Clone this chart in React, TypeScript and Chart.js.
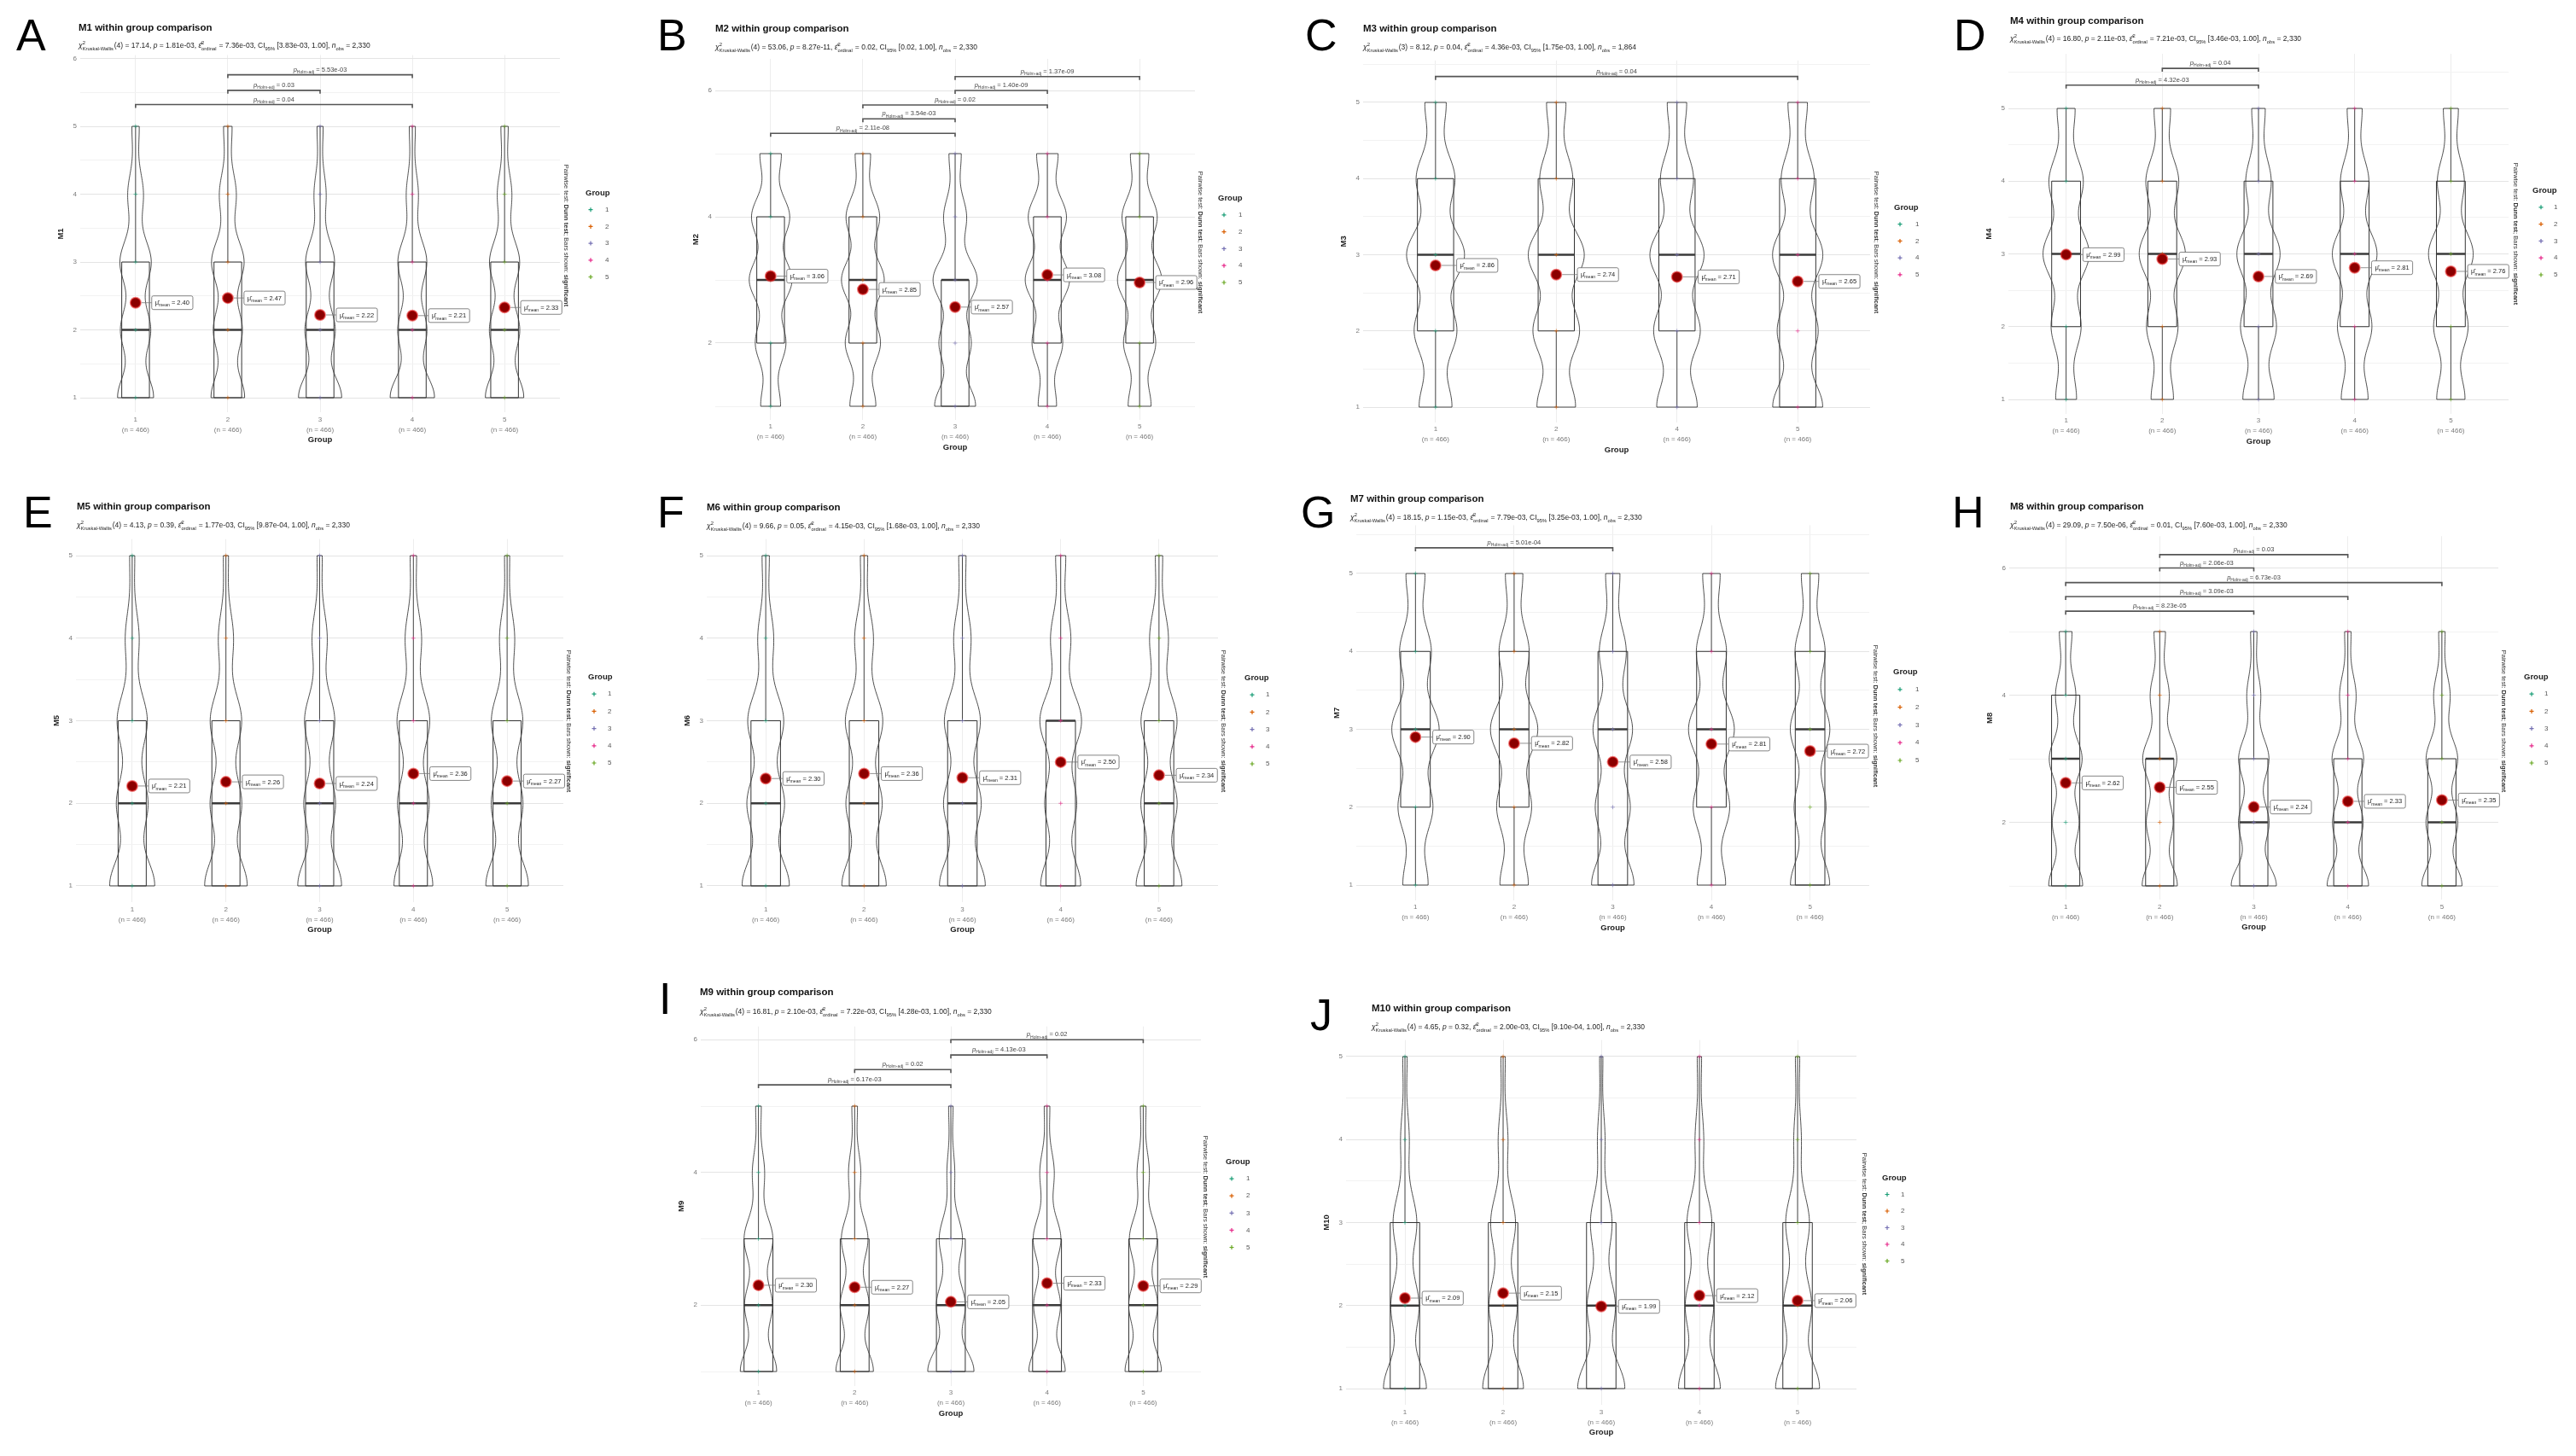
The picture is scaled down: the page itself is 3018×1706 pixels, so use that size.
import React, { useEffect, useRef } from "react";
import { Chart, registerables } from "chart.js";
Chart.register(...registerables);

const FONT = '"Liberation Sans", Arial, Helvetica, sans-serif';
const LETTER_FONT = '"Liberation Sans", Arial, sans-serif';

// ---------- shared categories ----------
const groupLabels = ["1", "2", "3", "4", "5"];
const groupLabelsM3 = ["1", "2", "4", "5"];
const perGroupN = 466;
const likertLevels = [1, 2, 3, 4, 5];
const groupColors = ["#1B9E77", "#D95F02", "#7570B3", "#E7298A", "#66A61E"];

const panelLetters = ["A", "B", "C", "D", "E", "F", "G", "H", "I", "J"];
const measureNames = ["M1", "M2", "M3", "M4", "M5", "M6", "M7", "M8", "M9", "M10"];

// ---------- Kruskal-Wallis subtitles ----------
const kwDf = [4, 4, 3, 4, 4, 4, 4, 4, 4, 4];
const kwChi = ["17.14", "53.06", "8.12", "16.80", "4.13", "9.66", "18.15", "29.09", "16.81", "4.65"];
const kwP = ["1.81e-03", "8.27e-11", "0.04", "2.11e-03", "0.39", "0.05", "1.15e-03", "7.50e-06", "2.10e-03", "0.32"];
const epsSq = ["7.36e-03", "0.02", "4.36e-03", "7.21e-03", "1.77e-03", "4.15e-03", "7.79e-03", "0.01", "7.22e-03", "2.00e-03"];
const ciLow = ["3.83e-03", "0.02", "1.75e-03", "3.46e-03", "9.87e-04", "1.68e-03", "3.25e-03", "7.60e-03", "4.28e-03", "9.10e-04"];
const ciHigh = ["1.00", "1.00", "1.00", "1.00", "1.00", "1.00", "1.00", "1.00", "1.00", "1.00"];
const nObs = ["2,330", "2,330", "1,864", "2,330", "2,330", "2,330", "2,330", "2,330", "2,330", "2,330"];

// ---------- M1 ----------
const M1_q1 = [1, 1, 1, 1, 1];
const M1_median = [2, 2, 2, 2, 2];
const M1_q3 = [3, 3, 3, 3, 3];
const M1_mean = [2.40, 2.47, 2.22, 2.21, 2.33];
const M1_share = [[0.30, 0.25, 0.26, 0.13, 0.06], [0.28, 0.24, 0.27, 0.14, 0.07], [0.36, 0.25, 0.24, 0.10, 0.05], [0.37, 0.24, 0.24, 0.10, 0.05], [0.32, 0.25, 0.25, 0.12, 0.06]];
const M1_pairs = [[2, 4], [2, 3], [1, 4]];
const M1_pHolm = ["5.53e-03", "0.03", "0.04"];
const M1_pairY = [5.76, 5.53, 5.32];
// ---------- M2 ----------
const M2_q1 = [2, 2, 1, 2, 2];
const M2_median = [3, 3, 3, 3, 3];
const M2_q3 = [4, 4, 3, 4, 4];
const M2_mean = [3.06, 2.85, 2.57, 3.08, 2.96];
const M2_share = [[0.13, 0.20, 0.28, 0.25, 0.14], [0.17, 0.23, 0.28, 0.22, 0.10], [0.27, 0.21, 0.29, 0.15, 0.08], [0.12, 0.20, 0.29, 0.25, 0.14], [0.15, 0.21, 0.29, 0.23, 0.12]];
const M2_pairs = [[3, 5], [3, 4], [2, 4], [2, 3], [1, 3]];
const M2_pHolm = ["1.37e-09", "1.40e-09", "0.02", "3.54e-03", "2.11e-08"];
const M2_pairY = [6.22, 6.0, 5.77, 5.55, 5.32];
// ---------- M3 ----------
const M3_q1 = [2, 2, 2, 1];
const M3_median = [3, 3, 3, 3];
const M3_q3 = [4, 4, 4, 4];
const M3_mean = [2.86, 2.74, 2.71, 2.65];
const M3_share = [[0.17, 0.22, 0.30, 0.20, 0.11], [0.20, 0.24, 0.29, 0.17, 0.10], [0.21, 0.24, 0.28, 0.17, 0.10], [0.26, 0.21, 0.26, 0.17, 0.10]];
const M3_pairs = [[1, 4]];
const M3_pHolm = ["0.04"];
const M3_pairY = [5.34];
// ---------- M4 ----------
const M4_q1 = [2, 2, 2, 2, 2];
const M4_median = [3, 3, 3, 3, 3];
const M4_q3 = [4, 4, 4, 4, 4];
const M4_mean = [2.99, 2.93, 2.69, 2.81, 2.76];
const M4_share = [[0.14, 0.20, 0.31, 0.23, 0.12], [0.15, 0.21, 0.31, 0.22, 0.11], [0.21, 0.24, 0.29, 0.17, 0.09], [0.18, 0.23, 0.30, 0.19, 0.10], [0.19, 0.23, 0.30, 0.18, 0.10]];
const M4_pairs = [[2, 3], [1, 3]];
const M4_pHolm = ["0.04", "4.32e-03"];
const M4_pairY = [5.55, 5.32];
// ---------- M5 ----------
const M5_q1 = [1, 1, 1, 1, 1];
const M5_median = [2, 2, 2, 2, 2];
const M5_q3 = [3, 3, 3, 3, 3];
const M5_mean = [2.21, 2.26, 2.24, 2.36, 2.27];
const M5_share = [[0.36, 0.25, 0.24, 0.11, 0.04], [0.34, 0.25, 0.25, 0.12, 0.04], [0.35, 0.25, 0.24, 0.12, 0.04], [0.31, 0.25, 0.26, 0.13, 0.05], [0.34, 0.25, 0.25, 0.12, 0.04]];
const M5_pairs: number[][] = [];
const M5_pHolm: string[] = [];
const M5_pairY: number[] = [];
// ---------- M6 ----------
const M6_q1 = [1, 1, 1, 1, 1];
const M6_median = [2, 2, 2, 3, 2];
const M6_q3 = [3, 3, 3, 3, 3];
const M6_mean = [2.30, 2.36, 2.31, 2.50, 2.34];
const M6_share = [[0.33, 0.26, 0.25, 0.11, 0.05], [0.31, 0.25, 0.26, 0.13, 0.05], [0.32, 0.26, 0.25, 0.12, 0.05], [0.28, 0.22, 0.29, 0.14, 0.07], [0.32, 0.25, 0.25, 0.13, 0.05]];
const M6_pairs: number[][] = [];
const M6_pHolm: string[] = [];
const M6_pairY: number[] = [];
// ---------- M7 ----------
const M7_q1 = [2, 2, 1, 2, 1];
const M7_median = [3, 3, 3, 3, 3];
const M7_q3 = [4, 4, 4, 4, 4];
const M7_mean = [2.90, 2.82, 2.58, 2.81, 2.72];
const M7_share = [[0.16, 0.22, 0.30, 0.20, 0.12], [0.18, 0.22, 0.30, 0.19, 0.11], [0.27, 0.22, 0.25, 0.17, 0.09], [0.18, 0.23, 0.29, 0.19, 0.11], [0.25, 0.20, 0.25, 0.19, 0.11]];
const M7_pairs = [[1, 3]];
const M7_pHolm = ["5.01e-04"];
const M7_pairY = [5.33];
// ---------- M8 ----------
const M8_q1 = [1, 1, 1, 1, 1];
const M8_median = [3, 3, 2, 2, 2];
const M8_q3 = [4, 3, 3, 3, 3];
const M8_mean = [2.62, 2.55, 2.24, 2.33, 2.35];
const M8_share = [[0.27, 0.21, 0.26, 0.16, 0.10], [0.28, 0.21, 0.27, 0.15, 0.09], [0.36, 0.24, 0.24, 0.11, 0.05], [0.33, 0.24, 0.25, 0.13, 0.05], [0.32, 0.25, 0.25, 0.13, 0.05]];
const M8_pairs = [[2, 4], [2, 3], [1, 5], [1, 4], [1, 3]];
const M8_pHolm = ["0.03", "2.06e-03", "6.73e-03", "3.09e-03", "8.23e-05"];
const M8_pairY = [6.21, 6.0, 5.77, 5.55, 5.32];
// ---------- M9 ----------
const M9_q1 = [1, 1, 1, 1, 1];
const M9_median = [2, 2, 2, 2, 2];
const M9_q3 = [3, 3, 3, 3, 3];
const M9_mean = [2.30, 2.27, 2.05, 2.33, 2.29];
const M9_share = [[0.33, 0.25, 0.26, 0.11, 0.05], [0.34, 0.26, 0.24, 0.11, 0.05], [0.42, 0.26, 0.21, 0.07, 0.04], [0.33, 0.24, 0.25, 0.13, 0.05], [0.33, 0.26, 0.25, 0.11, 0.05]];
const M9_pairs = [[3, 5], [3, 4], [2, 3], [1, 3]];
const M9_pHolm = ["0.02", "4.13e-03", "0.02", "6.17e-03"];
const M9_pairY = [6.0, 5.77, 5.55, 5.32];
// ---------- M10 ----------
const M10_q1 = [1, 1, 1, 1, 1];
const M10_median = [2, 2, 2, 2, 2];
const M10_q3 = [3, 3, 3, 3, 3];
const M10_mean = [2.09, 2.15, 1.99, 2.12, 2.06];
const M10_share = [[0.40, 0.26, 0.22, 0.08, 0.04], [0.38, 0.26, 0.23, 0.09, 0.04], [0.44, 0.26, 0.20, 0.07, 0.03], [0.39, 0.26, 0.23, 0.08, 0.04], [0.41, 0.26, 0.22, 0.07, 0.04]];
const M10_pairs: number[][] = [];
const M10_pHolm: string[] = [];
const M10_pairY: number[] = [];

const measures = [
  { groups: groupLabels, q1: M1_q1, median: M1_median, q3: M1_q3, mean: M1_mean, share: M1_share, pairs: M1_pairs, pHolm: M1_pHolm, pairY: M1_pairY },
  { groups: groupLabels, q1: M2_q1, median: M2_median, q3: M2_q3, mean: M2_mean, share: M2_share, pairs: M2_pairs, pHolm: M2_pHolm, pairY: M2_pairY },
  { groups: groupLabelsM3, q1: M3_q1, median: M3_median, q3: M3_q3, mean: M3_mean, share: M3_share, pairs: M3_pairs, pHolm: M3_pHolm, pairY: M3_pairY },
  { groups: groupLabels, q1: M4_q1, median: M4_median, q3: M4_q3, mean: M4_mean, share: M4_share, pairs: M4_pairs, pHolm: M4_pHolm, pairY: M4_pairY },
  { groups: groupLabels, q1: M5_q1, median: M5_median, q3: M5_q3, mean: M5_mean, share: M5_share, pairs: M5_pairs, pHolm: M5_pHolm, pairY: M5_pairY },
  { groups: groupLabels, q1: M6_q1, median: M6_median, q3: M6_q3, mean: M6_mean, share: M6_share, pairs: M6_pairs, pHolm: M6_pHolm, pairY: M6_pairY },
  { groups: groupLabels, q1: M7_q1, median: M7_median, q3: M7_q3, mean: M7_mean, share: M7_share, pairs: M7_pairs, pHolm: M7_pHolm, pairY: M7_pairY },
  { groups: groupLabels, q1: M8_q1, median: M8_median, q3: M8_q3, mean: M8_mean, share: M8_share, pairs: M8_pairs, pHolm: M8_pHolm, pairY: M8_pairY },
  { groups: groupLabels, q1: M9_q1, median: M9_median, q3: M9_q3, mean: M9_mean, share: M9_share, pairs: M9_pairs, pHolm: M9_pHolm, pairY: M9_pairY },
  { groups: groupLabels, q1: M10_q1, median: M10_median, q3: M10_q3, mean: M10_mean, share: M10_share, pairs: M10_pairs, pHolm: M10_pHolm, pairY: M10_pairY },
];

// ---------- layout (page pixels) ----------
const LAYOUT = [
  { cell: [0, 0, 760, 555], plotL: 94, plotR: 656, p1: 466, unit: 79.5, yMin: 0.78, yMax: 6.05, step: 1, letter: [19, 59], title: [92, 32], sub: [92, 53], leg: { x: 686, y: 226, sx: 692, lx: 709, dy: 19.7 }, cap: [664, 276] },
  { cell: [760, 0, 740, 555], plotL: 838, plotR: 1400, p1: 476, unit: 74, yMin: 0.78, yMax: 6.5, step: 2, letter: [770, 59], title: [838, 33], sub: [838, 55], leg: { x: 1427, y: 232, sx: 1434, lx: 1451, dy: 19.8 }, cap: [1407, 284] },
  { cell: [1500, 0, 760, 555], plotL: 1597, plotR: 2191, p1: 477, unit: 89.25, yMin: 0.8, yMax: 5.55, step: 1, letter: [1529, 59], title: [1597, 33], sub: [1597, 55], leg: { x: 2219, y: 243, sx: 2226, lx: 2244, dy: 19.7 }, cap: [2199, 284] },
  { cell: [2260, 0, 758, 555], plotL: 2353, plotR: 2939, p1: 468, unit: 85.25, yMin: 0.8, yMax: 5.75, step: 1, letter: [2289, 59], title: [2355, 24], sub: [2355, 45], leg: { x: 2967, y: 223, sx: 2977, lx: 2992, dy: 19.8 }, cap: [2948, 274] },
  { cell: [0, 555, 760, 560], plotL: 89, plotR: 660, p1: 1038, unit: 96.75, yMin: 0.8, yMax: 5.2, step: 1, letter: [27, 618], title: [90, 593], sub: [90, 615], leg: { x: 689, y: 793, sx: 696, lx: 712, dy: 20.2 }, cap: [667, 845] },
  { cell: [760, 555, 740, 560], plotL: 828, plotR: 1427, p1: 1038, unit: 96.75, yMin: 0.8, yMax: 5.2, step: 1, letter: [770, 618], title: [828, 594], sub: [828, 616], leg: { x: 1458, y: 794, sx: 1467, lx: 1483, dy: 20.2 }, cap: [1434, 845] },
  { cell: [1500, 555, 760, 560], plotL: 1589, plotR: 2190, p1: 1037, unit: 91.25, yMin: 0.8, yMax: 5.62, step: 1, letter: [1524, 618], title: [1582, 584], sub: [1582, 606], leg: { x: 2218, y: 787, sx: 2226, lx: 2244, dy: 20.8 }, cap: [2198, 839] },
  { cell: [2260, 555, 758, 560], plotL: 2354, plotR: 2927, p1: 1038, unit: 74.5, yMin: 0.78, yMax: 6.5, step: 2, letter: [2287, 618], title: [2355, 593], sub: [2355, 615], leg: { x: 2957, y: 793, sx: 2966, lx: 2981, dy: 20.2 }, cap: [2934, 845] },
  { cell: [740, 1115, 760, 591], plotL: 821, plotR: 1407, p1: 1607, unit: 77.75, yMin: 0.78, yMax: 6.2, step: 2, letter: [772, 1188], title: [820, 1162], sub: [820, 1185], leg: { x: 1436, y: 1361, sx: 1443, lx: 1460, dy: 20.1 }, cap: [1413, 1414] },
  { cell: [1500, 1115, 760, 591], plotL: 1577, plotR: 2175, p1: 1627, unit: 97.25, yMin: 0.8, yMax: 5.2, step: 1, letter: [1535, 1207], title: [1607, 1181], sub: [1607, 1203], leg: { x: 2205, y: 1380, sx: 2211, lx: 2227, dy: 19.5 }, cap: [2185, 1434] },
];

const VIOLIN_HALF = 0.24;
const BOX_HALF = 0.15;
const BW = 0.33;

type Seg = { k: string; t: string; t2?: string };

function drawRich(ctx: CanvasRenderingContext2D, segs: Seg[], x: number, y: number, size: number, color: string, draw = true) {
  let cx = x;
  const sm = size * 0.68;
  ctx.fillStyle = color;
  ctx.textAlign = "left";
  ctx.textBaseline = "alphabetic";
  for (const s of segs) {
    if (s.k === "ss") {
      ctx.font = `${sm}px ${FONT}`;
      const w = Math.max(ctx.measureText(s.t).width, ctx.measureText(s.t2 || "").width);
      if (draw) {
        ctx.fillText(s.t, cx, y - size * 0.45);
        ctx.fillText(s.t2 || "", cx, y + size * 0.3);
      }
      cx += w + size * 0.08;
    } else if (s.k === "sub") {
      ctx.font = `${sm}px ${FONT}`;
      if (draw) ctx.fillText(s.t, cx, y + size * 0.3);
      cx += ctx.measureText(s.t).width;
    } else {
      ctx.font = `${s.k === "i" ? "italic " : s.k === "b" ? "bold " : ""}${size}px ${FONT}`;
      if (draw) ctx.fillText(s.t, cx, y);
      cx += ctx.measureText(s.t).width;
    }
  }
  return cx - x;
}

function subtitleSegs(i: number): Seg[] {
  return [
    { k: "i", t: "χ" }, { k: "ss", t: "2", t2: "Kruskal-Wallis" },
    { k: "n", t: `(${kwDf[i]}) = ${kwChi[i]}, ` },
    { k: "i", t: "p" }, { k: "n", t: ` = ${kwP[i]}, ` },
    { k: "i", t: "ε̂" }, { k: "ss", t: "2", t2: "ordinal" },
    { k: "n", t: ` = ${epsSq[i]}, CI` }, { k: "sub", t: "95%" },
    { k: "n", t: ` [${ciLow[i]}, ${ciHigh[i]}], ` },
    { k: "i", t: "n" }, { k: "sub", t: "obs" }, { k: "n", t: ` = ${nObs[i]}` },
  ];
}

function Panel({ idx }: { idx: number }) {
  const ref = useRef<HTMLCanvasElement>(null);
  const L = LAYOUT[idx];
  const D = measures[idx];
  const [cx0, cy0, W, H] = L.cell;

  useEffect(() => {
    const canvas = ref.current as HTMLCanvasElement;
    const n = D.groups.length;
    const plotTop = L.p1 - (L.yMax - 1) * L.unit;
    const plotBottom = L.p1 + (1 - L.yMin) * L.unit;
    const YAXW = 28, XAXH = 40;
    const padding = {
      left: L.plotL - cx0 - YAXW,
      right: cx0 + W - L.plotR,
      top: plotTop - cy0,
      bottom: cy0 + H - plotBottom - XAXH,
    };
    const isMajor = (v: number) => Math.abs(v / L.step - Math.round(v / L.step)) < 1e-6;
    const lo = likertLevels[0], hi = likertLevels[likertLevels.length - 1];
    const dens = (sh: number[], v: number) => sh.reduce((s, p, k) => s + p * Math.exp(-0.5 * ((v - likertLevels[k]) / BW) ** 2), 0);

    const meanData = D.mean.map((m, i) => ({ x: i + 1, y: m }));
    const ptData: any[] = [];
    const ptColors: string[] = [];
    D.share.forEach((sh, i) => sh.forEach((p, k) => {
      if (p > 0) { ptData.push({ x: i + 1, y: likertLevels[k] }); ptColors.push(groupColors[i] + "99"); }
    }));

    const decor = {
      id: "decor" + idx,
      beforeDatasetsDraw(chart: any) {
        const { ctx } = chart;
        const xs = chart.scales.x, ys = chart.scales.y;
        const X = (v: number) => xs.getPixelForValue(v);
        const Y = (v: number) => ys.getPixelForValue(v);
        let dmax = 0;
        D.share.forEach((sh) => { for (let v = lo; v <= hi + 1e-9; v += 0.02) dmax = Math.max(dmax, dens(sh, v)); });
        ctx.save();
        D.share.forEach((sh, i) => {
          const xc = i + 1;
          const steps = 160;
          const right: number[][] = [], left: number[][] = [];
          for (let s = 0; s <= steps; s++) {
            const v = lo + ((hi - lo) * s) / steps;
            const hw = (dens(sh, v) / dmax) * VIOLIN_HALF;
            right.push([X(xc + hw), Y(v)]);
            left.push([X(xc - hw), Y(v)]);
          }
          ctx.beginPath();
          right.forEach(([px, py], k) => (k ? ctx.lineTo(px, py) : ctx.moveTo(px, py)));
          for (let k = left.length - 1; k >= 0; k--) ctx.lineTo(left[k][0], left[k][1]);
          ctx.closePath();
          ctx.strokeStyle = "#3a3a3a";
          ctx.lineWidth = 0.9;
          ctx.stroke();
          // whiskers
          ctx.beginPath();
          ctx.strokeStyle = "#333";
          ctx.lineWidth = 0.9;
          if (D.q1[i] > lo) { ctx.moveTo(X(xc), Y(lo)); ctx.lineTo(X(xc), Y(D.q1[i])); }
          if (D.q3[i] < hi) { ctx.moveTo(X(xc), Y(D.q3[i])); ctx.lineTo(X(xc), Y(hi)); }
          ctx.stroke();
          // box
          ctx.beginPath();
          ctx.rect(X(xc - BOX_HALF), Y(D.q3[i]), X(xc + BOX_HALF) - X(xc - BOX_HALF), Y(D.q1[i]) - Y(D.q3[i]));
          ctx.lineWidth = 1;
          ctx.stroke();
          // median
          ctx.beginPath();
          ctx.lineWidth = 2.3;
          ctx.strokeStyle = "#3a3a3a";
          ctx.moveTo(X(xc - BOX_HALF), Y(D.median[i]));
          ctx.lineTo(X(xc + BOX_HALF), Y(D.median[i]));
          ctx.stroke();
        });
        // significance brackets
        D.pairs.forEach((pr, j) => {
          const yv = Y(D.pairY[j]);
          const xa = X(pr[0]), xb = X(pr[1]);
          ctx.beginPath();
          ctx.strokeStyle = "#555";
          ctx.lineWidth = 1.6;
          ctx.moveTo(xa, yv + 4); ctx.lineTo(xa, yv); ctx.lineTo(xb, yv); ctx.lineTo(xb, yv + 4);
          ctx.stroke();
          const segs: Seg[] = [{ k: "i", t: "p" }, { k: "sub", t: "Holm-adj" }, { k: "n", t: ` = ${D.pHolm[j]}` }];
          const w = drawRich(ctx, segs, 0, 0, 7.5, "#444", false);
          drawRich(ctx, segs, (xa + xb) / 2 - w / 2, yv - 4, 7.5, "#444");
        });
        ctx.restore();
      },
      afterDatasetsDraw(chart: any) {
        const { ctx } = chart;
        const xs = chart.scales.x, ys = chart.scales.y;
        ctx.save();
        D.mean.forEach((m, i) => {
          const px = xs.getPixelForValue(i + 1), py = ys.getPixelForValue(m);
          const segs: Seg[] = [{ k: "n", t: "μ̂" }, { k: "sub", t: "mean" }, { k: "n", t: ` = ${m.toFixed(2)}` }];
          const w = drawRich(ctx, segs, 0, 0, 7.5, "#222", false) + 8;
          const bx = xs.getPixelForValue(i + 1 + 0.175);
          const bh = 16;
          ctx.beginPath();
          ctx.strokeStyle = "#777";
          ctx.lineWidth = 0.8;
          ctx.moveTo(px + 7, py); ctx.lineTo(bx, py);
          ctx.stroke();
          ctx.beginPath();
          ctx.roundRect(bx, py - bh / 2, w, bh, 2);
          ctx.fillStyle = "#fff";
          ctx.fill();
          ctx.strokeStyle = "#666";
          ctx.stroke();
          drawRich(ctx, segs, bx + 4, py + 2.5, 7.5, "#222");
        });
        ctx.restore();
      },
      afterDraw(chart: any) {
        const { ctx } = chart;
        ctx.save();
        // panel letter
        ctx.fillStyle = "#000";
        ctx.textAlign = "left";
        ctx.textBaseline = "alphabetic";
        ctx.font = `52px ${LETTER_FONT}`;
        ctx.fillText(panelLetters[idx], L.letter[0] - cx0, L.letter[1] - cy0);
        // title
        ctx.font = `bold 11.5px ${FONT}`;
        ctx.fillStyle = "#111";
        ctx.fillText(`${measureNames[idx]} within group comparison`, L.title[0] - cx0, L.title[1] - cy0 + 4);
        // subtitle
        drawRich(ctx, subtitleSegs(idx), L.sub[0] - cx0, L.sub[1] - cy0 + 3, 8.5, "#222");
        // rotated caption
        ctx.save();
        ctx.translate(L.cap[0] - cx0, L.cap[1] - cy0);
        ctx.rotate(Math.PI / 2);
        const cap: Seg[] = [{ k: "n", t: "Pairwise test: " }, { k: "b", t: "Dunn test" }, { k: "n", t: "; Bars shown: " }, { k: "b", t: "significant" }];
        const cw = drawRich(ctx, cap, 0, 0, 7.5, "#333", false);
        drawRich(ctx, cap, -cw / 2, 3, 7.5, "#333");
        ctx.restore();
        // legend
        ctx.font = `bold 9.5px ${FONT}`;
        ctx.fillStyle = "#222";
        ctx.textBaseline = "middle";
        ctx.textAlign = "left";
        ctx.fillText("Group", L.leg.x - cx0, L.leg.y - cy0);
        D.groups.forEach((g, i) => {
          const yy = L.leg.y + L.leg.dy * (i + 1) - cy0;
          const sx = L.leg.sx - cx0;
          ctx.beginPath();
          ctx.strokeStyle = groupColors[i];
          ctx.lineWidth = 1.2;
          ctx.moveTo(sx - 2.5, yy); ctx.lineTo(sx + 2.5, yy);
          ctx.moveTo(sx, yy - 2.5); ctx.lineTo(sx, yy + 2.5);
          ctx.stroke();
          ctx.font = `8px ${FONT}`;
          ctx.fillStyle = "#555";
          ctx.fillText(g, L.leg.lx - cx0, yy);
        });
        ctx.restore();
      },
    };

    const chart = new Chart(canvas, {
      type: "scatter",
      data: {
        datasets: [
          {
            data: meanData,
            pointRadius: 6,
            pointBackgroundColor: "#8B0000",
            pointBorderColor: "rgba(230,30,30,0.55)",
            pointBorderWidth: 2,
            showLine: false,
          } as any,
          {
            data: ptData,
            pointStyle: "cross",
            pointRadius: 2.4,
            pointBorderColor: ptColors,
            pointBackgroundColor: ptColors,
            pointBorderWidth: 1,
            showLine: false,
          } as any,
        ],
      },
      options: {
        animation: false,
        responsive: false,
        devicePixelRatio: 1,
        events: [],
        layout: { padding },
        plugins: { legend: { display: false }, tooltip: { enabled: false }, title: { display: false } },
        scales: {
          x: {
            type: "linear",
            min: 0.4,
            max: n + 0.6,
            afterBuildTicks: (s: any) => { s.ticks = D.groups.map((_, i) => ({ value: i + 1 })); },
            afterFit: (s: any) => { s.height = XAXH; },
            grid: { color: "#EDEDED", drawTicks: false, lineWidth: 1 },
            border: { display: false },
            ticks: {
              font: { size: 8, family: FONT, lineHeight: 1.5 },
              color: "#7a7a7a",
              padding: 2,
              autoSkip: false,
              maxRotation: 0,
              callback: (_v: any, i: number) => [D.groups[i], `(n = ${perGroupN})`],
            },
            title: { display: true, text: "Group", font: { size: 9.5, weight: "bold", family: FONT }, color: "#222", padding: { top: 0, bottom: 2 } },
          },
          y: {
            type: "linear",
            min: L.yMin,
            max: L.yMax,
            afterBuildTicks: (s: any) => {
              const minor = L.step / 2;
              const t: any[] = [];
              for (let v = Math.ceil(L.yMin / minor - 1e-9) * minor; v <= L.yMax + 1e-9; v += minor) t.push({ value: +v.toFixed(4) });
              s.ticks = t;
            },
            afterFit: (s: any) => { s.width = YAXW; },
            grid: {
              color: (c: any) => (c.tick && isMajor(c.tick.value) ? "#E4E4E4" : "#F2F2F2"),
              drawTicks: false,
              lineWidth: 1,
            },
            border: { display: false },
            ticks: {
              font: { size: 8, family: FONT },
              color: "#7a7a7a",
              padding: 4,
              autoSkip: false,
              callback: (v: any) => (isMajor(Number(v)) ? String(Math.round(Number(v))) : ""),
            },
            title: { display: true, text: measureNames[idx], font: { size: 9.5, weight: "bold", family: FONT }, color: "#222", padding: { top: 0, bottom: 2 } },
          },
        },
      } as any,
      plugins: [decor as any],
    });
    return () => chart.destroy();
  }, []);

  return (
    <canvas
      ref={ref}
      width={W}
      height={H}
      style={{ position: "absolute", left: cx0, top: cy0, width: W, height: H }}
    />
  );
}

export default function App() {
  useEffect(() => {
    document.body.style.margin = "0";
    document.body.style.background = "#fff";
  }, []);
  return (
    <div style={{ position: "relative", width: 3018, height: 1706, background: "#fff", overflow: "hidden" }}>
      {LAYOUT.map((_, i) => (
        <Panel key={i} idx={i} />
      ))}
    </div>
  );
}
